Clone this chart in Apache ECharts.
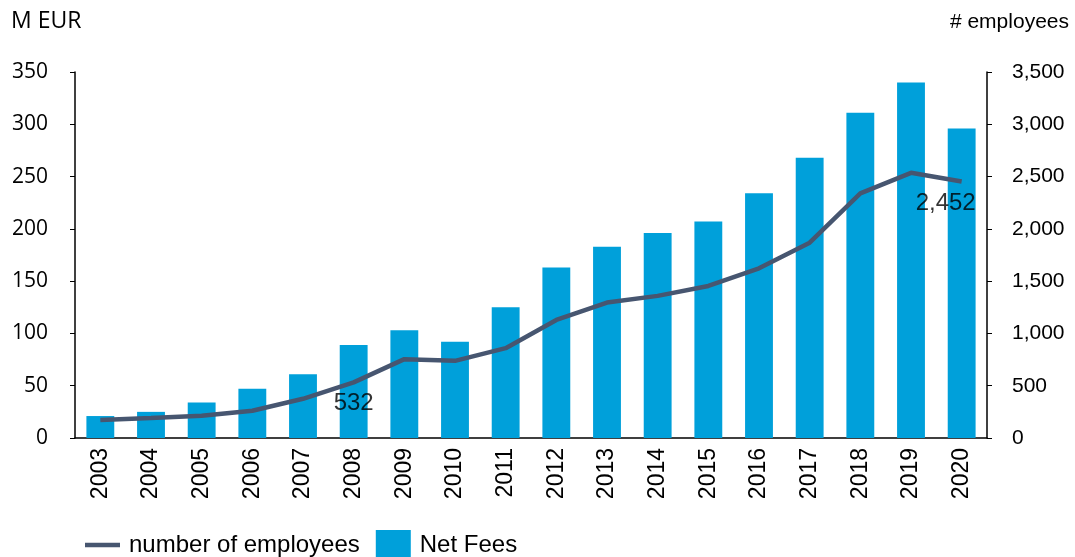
<!DOCTYPE html>
<html><head><meta charset="utf-8">
<script src="https://cdn.jsdelivr.net/npm/echarts@6/dist/echarts.min.js"></script>
<style>html,body{margin:0;padding:0;background:#fff}#c{width:1075px;height:557px}</style>
</head><body><div id="c"></div>
<script>
const years = ['2003','2004','2005','2006','2007','2008','2009','2010','2011','2012','2013','2014','2015','2016','2017','2018','2019','2020'];
const netFees = [21, 25, 34, 47, 61, 89, 103, 92, 125, 163, 183, 196, 207, 234, 268, 311, 340, 296];
const employees = [172, 191, 213, 261, 375, 532, 754, 738, 859, 1129, 1295, 1359, 1454, 1623, 1868, 2339, 2536, 2452];
const labeledYears = ['2008', '2020'];
const leftTicks = {min: 0, max: 350, interval: 50};
const rightTicks = {min: 0, max: 3500, interval: 500};

const FONT = '"Liberation Sans", Arial, sans-serif';
const FONT2 = '"Open Sans", "Liberation Sans", sans-serif';
const chart = echarts.init(document.getElementById('c'));
const labelData = years
  .map((y, i) => ({y, i}))
  .filter(d => labeledYears.includes(d.y))
  .map(d => ({
    value: [d.y, employees[d.i]],
    label: {offset: d.y === '2020' ? [-16, 0] : [0, 0]}
  }));
chart.setOption({
  animation: false,
  textStyle: {fontFamily: FONT},
  graphic: [
    {type: 'text', left: 11, top: 10, style: {text: 'M EUR', fontSize: 23, fontFamily: FONT2, fill: '#000'}},
    {type: 'text', right: 6, top: 12, style: {text: '# employees', fontSize: 21, fontFamily: FONT, fill: '#000'}}
  ],
  legend: {
    top: 530, left: 85, itemGap: 16, padding: 0,
    data: [
      {name: 'number of employees', icon: 'path://M0,0H35V4.5H0Z'},
      {name: 'Net Fees', icon: 'rect'}
    ],
    textStyle: {fontSize: 24, color: '#000', fontFamily: FONT, padding: [0, 0, 0, 4]},
    itemWidth: 35, itemHeight: 30
  },
  grid: {left: 75, right: 88, top: 72, bottom: 119, containLabel: false},
  xAxis: {
    type: 'category', data: years,
    axisLine: {lineStyle: {color: '#000', width: 1.5}},
    axisTick: {show: false},
    axisLabel: {rotate: 90, fontSize: 23, color: '#000', margin: 10, fontFamily: FONT}
  },
  yAxis: [
    {type: 'value', min: leftTicks.min, max: leftTicks.max, interval: leftTicks.interval,
      axisLine: {show: true, lineStyle: {color: '#000', width: 1.5}},
      axisTick: {show: true, length: 5, lineStyle: {color: '#000'}},
      splitLine: {show: false},
      axisLabel: {fontSize: 21, color: '#000', margin: 27, fontFamily: FONT2}},
    {type: 'value', min: rightTicks.min, max: rightTicks.max, interval: rightTicks.interval,
      position: 'right',
      axisLine: {show: true, lineStyle: {color: '#000', width: 1.5}},
      axisTick: {show: true, length: 5, lineStyle: {color: '#000'}},
      splitLine: {show: false},
      axisLabel: {fontSize: 21, color: '#000', margin: 25, fontFamily: FONT,
        formatter: v => v.toLocaleString('en-US')}}
  ],
  series: [
    {name: 'Net Fees', type: 'bar', yAxisIndex: 0, data: netFees, barWidth: '55%',
      itemStyle: {color: '#00A0DA'}, z: 1},
    {name: 'number of employees', type: 'line', yAxisIndex: 1, data: employees,
      symbol: 'none', lineStyle: {color: '#475670', width: 4.5},
      itemStyle: {color: '#475670'}, z: 3},
    {name: 'labels', type: 'scatter', yAxisIndex: 1, data: labelData,
      symbolSize: 1, itemStyle: {color: 'rgba(0,0,0,0)'}, z: 4, silent: true,
      label: {show: true, position: 'bottom', distance: 9, fontSize: 24, color: '#000', fontFamily: FONT,
        formatter: p => p.value[1].toLocaleString('en-US')}}
  ]
});
</script></body></html>
